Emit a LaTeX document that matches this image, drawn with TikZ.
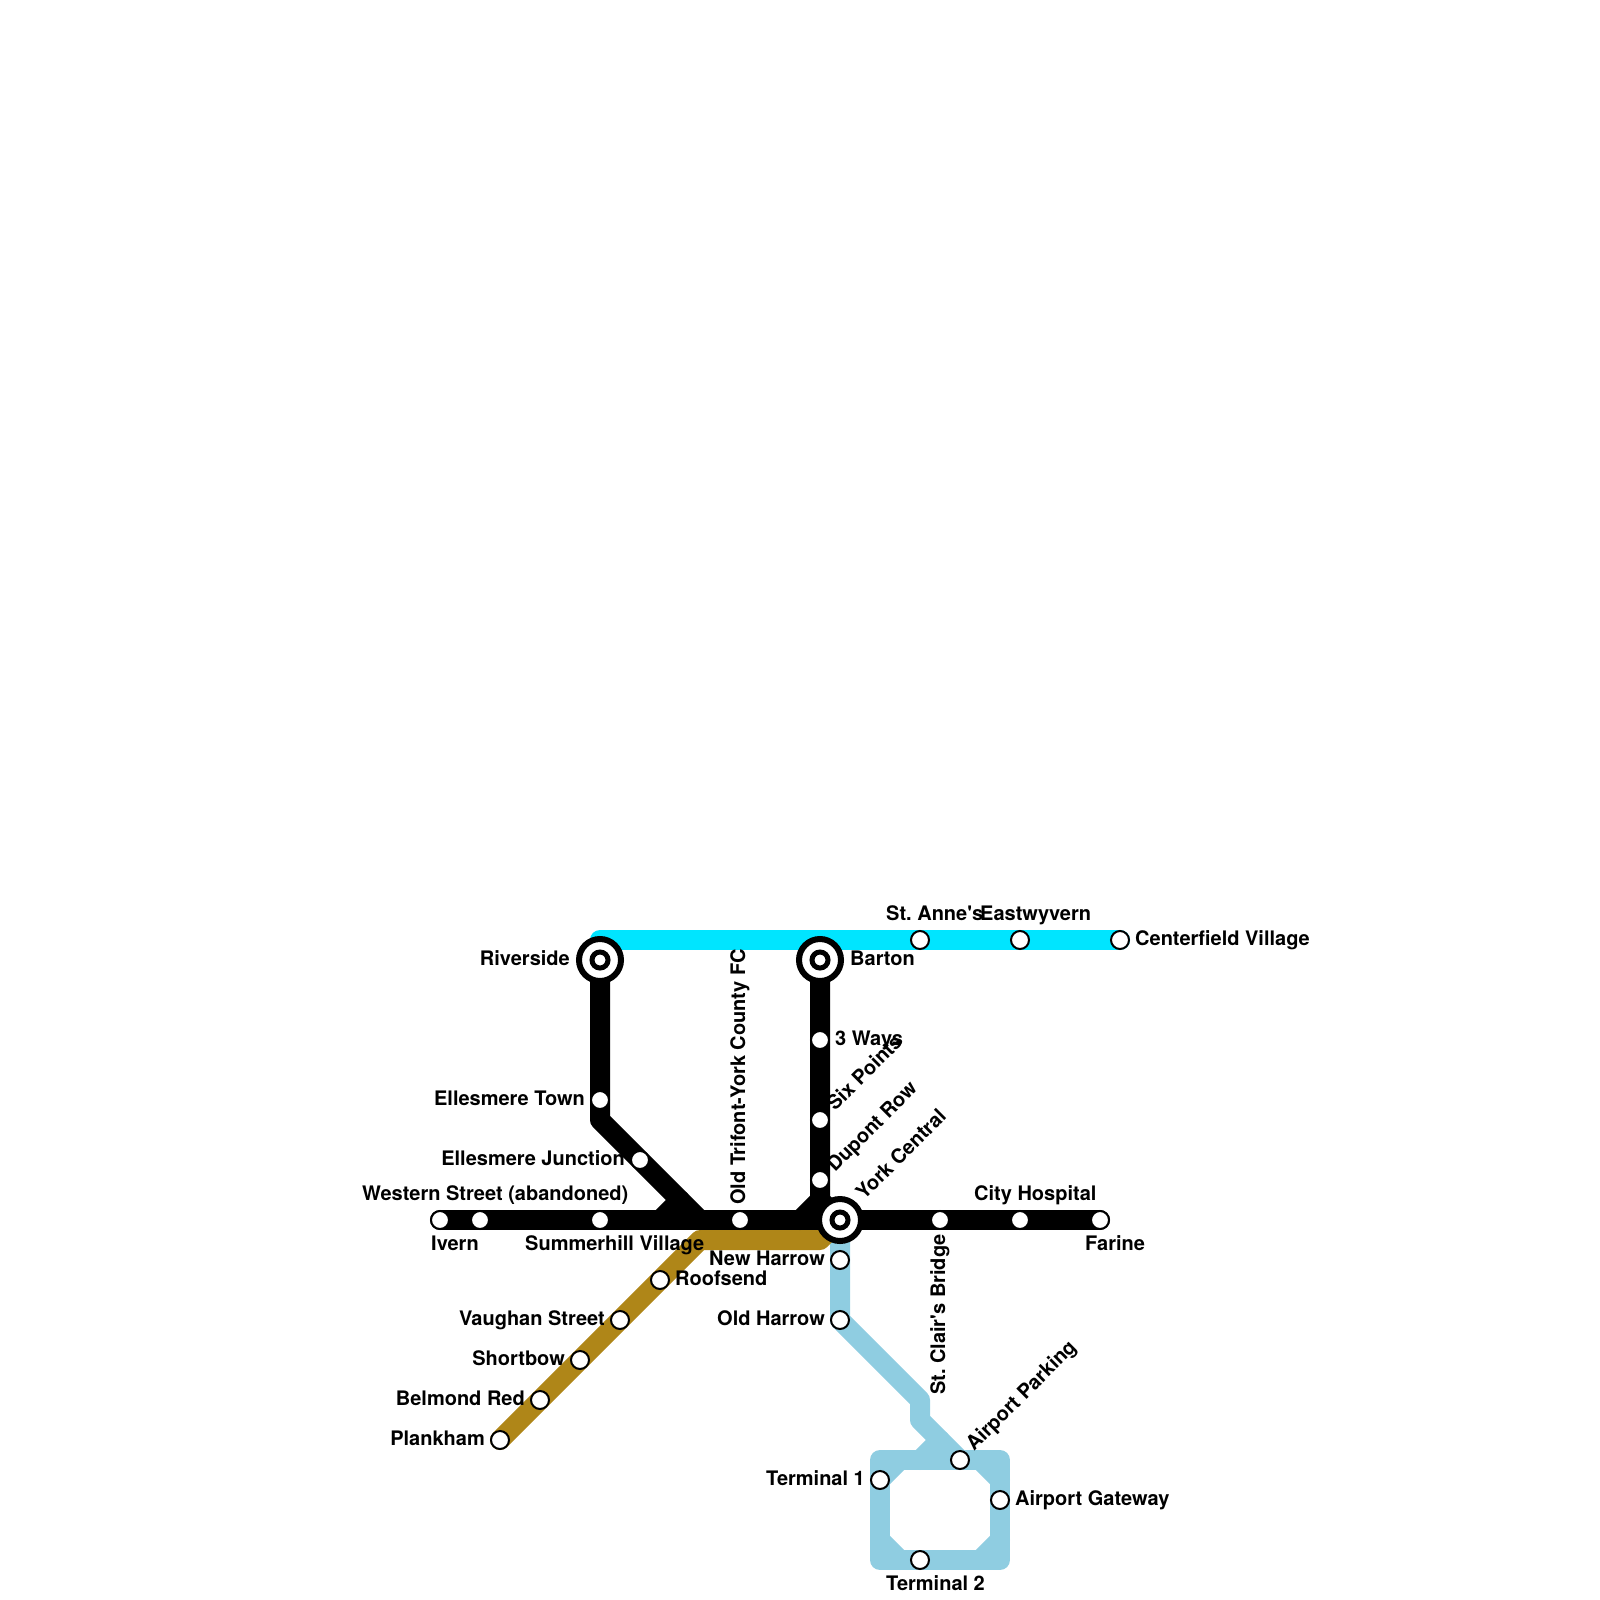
\documentclass[tikz,border=0pt]{standalone}
\usepackage{fontspec}
\setmainfont[Ligatures=ResetAll]{TeX Gyre Heros}
\usetikzlibrary{backgrounds}
\definecolor{MetroCyan}{HTML}{00E5FF}
\definecolor{MetroBrown}{HTML}{AF8618}
\definecolor{MetroBlue}{HTML}{8FCDE1}
\begin{document}
\begin{tikzpicture}[x=1pt,y=-1pt,
    every node/.style={font=\fontsize{20}{22}\selectfont\bfseries,inner sep=0pt},
    stn/.style={circle,draw=black,fill=white,line width=2pt,minimum size=18pt},
    hub/.style={circle,draw=black,fill=white,line width=6pt,minimum size=42pt},
    hubcore/.style={circle,draw=black,fill=white,line width=5pt,minimum size=16pt},
    rail/.style={line width=20pt,line cap=round,line join=round}]
  \useasboundingbox (0,0) rectangle (1600,1600);

  % stations
  \node[stn] (ivern) at (440,1220) {};
  \node[stn] (western) at (480,1220) {};
  \node[stn] (summerhill) at (600,1220) {};
  \node[stn] (trifont) at (740,1220) {};
  \node[stn] (stclair) at (940,1220) {};
  \node[stn] (cityhosp) at (1020,1220) {};
  \node[stn] (farine) at (1100,1220) {};
  \node[stn] (ellestown) at (600,1100) {};
  \node[stn] (ellesjunc) at (640,1160) {};
  \node[stn] (threeways) at (820,1040) {};
  \node[stn] (sixpoints) at (820,1120) {};
  \node[stn] (dupont) at (820,1180) {};
  \node[stn] (stannes) at (920,940) {};
  \node[stn] (eastwyvern) at (1020,940) {};
  \node[stn] (centerfield) at (1120,940) {};
  \node[stn] (roofsend) at (660,1280) {};
  \node[stn] (vaughan) at (620,1320) {};
  \node[stn] (shortbow) at (580,1360) {};
  \node[stn] (belmond) at (540,1400) {};
  \node[stn] (plankham) at (500,1440) {};
  \node[stn] (newharrow) at (840,1260) {};
  \node[stn] (oldharrow) at (840,1320) {};
  \node[stn] (parking) at (960,1460) {};
  \node[stn] (terminalone) at (880,1480) {};
  \node[stn] (gateway) at (1000,1500) {};
  \node[stn] (terminaltwo) at (920,1560) {};
  \node[hub] (riverside) at (600,960) {};
  \node[hub] (barton) at (820,960) {};
  \node[hub] (york) at (840,1220) {};
  \node[hubcore] (riversidecore) at (riverside) {};
  \node[hubcore] (bartoncore) at (barton) {};
  \node[hubcore] (yorkcore) at (york) {};

  % bends
  \coordinate (cyanbend) at (600,940);
  \coordinate (ellesbend) at (600,1120);
  \coordinate (ellesfoot) at (700,1220);
  \coordinate (ellesnotch) at (680,1200);
  \coordinate (ellesstub) at (660,1220);
  \coordinate (bartonbend) at (820,1200);
  \coordinate (bartonstub) at (800,1220);
  \coordinate (brownbend) at (700,1240);
  \coordinate (browncorner) at (820,1240);
  \coordinate (bluetop) at (920,1400);
  \coordinate (bluelow) at (920,1420);
  \coordinate (bluestub) at (940,1440);
  \coordinate (ringstub) at (920,1460);
  \coordinate (ringnw) at (880,1460);
  \coordinate (ringne) at (1000,1460);
  \coordinate (ringse) at (1000,1560);
  \coordinate (ringsw) at (880,1560);
  \coordinate (nwa) at (900,1460);
  \coordinate (nea) at (980,1460);
  \coordinate (neb) at (1000,1480);
  \coordinate (sea) at (1000,1540);
  \coordinate (seb) at (980,1560);
  \coordinate (swa) at (900,1560);
  \coordinate (swb) at (880,1540);

  % lines
  \begin{scope}[on background layer]
    \draw[rail,MetroCyan] (riverside.center) -- (cyanbend) -- (stannes.center) -- (eastwyvern.center) -- (centerfield.center);
    \draw[rail,MetroBlue] (york.center) -- (newharrow.center) -- (oldharrow.center) -- (bluetop) -- (bluelow) -- (parking.center);
    \draw[rail,MetroBlue] (ringstub) -- (bluestub);
    \draw[rail,MetroBlue] (ringnw) -- (parking.center) -- (ringne) -- (gateway.center) -- (ringse) -- (terminaltwo.center) -- (ringsw) -- (terminalone.center) -- cycle;
    \draw[rail,MetroBlue] (terminalone.center) -- (nwa);
    \draw[rail,MetroBlue] (nea) -- (neb);
    \draw[rail,MetroBlue] (sea) -- (seb);
    \draw[rail,MetroBlue] (swa) -- (swb);
    \draw[rail,MetroBrown] (plankham.center) -- (belmond.center) -- (shortbow.center) -- (vaughan.center) -- (roofsend.center) -- (brownbend) -- (browncorner) -- (york.center);
    \draw[rail,black] (ivern.center) -- (western.center) -- (summerhill.center) -- (trifont.center) -- (york.center) -- (stclair.center) -- (cityhosp.center) -- (farine.center);
    \draw[rail,black] (riverside.center) -- (ellestown.center) -- (ellesbend) -- (ellesjunc.center) -- (ellesfoot);
    \draw[rail,black] (ellesstub) -- (ellesnotch);
    \draw[rail,black] (barton.center) -- (threeways.center) -- (sixpoints.center) -- (dupont.center) -- (bartonbend) -- (york.center);
    \draw[rail,black] (bartonstub) -- (bartonbend);
  \end{scope}

  % labels
  \node[anchor=base east] (riversidelbl) at (570,965) {Riverside};
  \node[anchor=base west] (bartonlbl) at (850,965) {Barton};
  \node[anchor=base east] (ellestownlbl) at (585,1105) {Ellesmere Town};
  \node[anchor=base east] (ellesjunclbl) at (625,1165) {Ellesmere Junction};
  \node[anchor=base west] (westernlbl) at (362,1200) {Western Street (abandoned)};
  \node[anchor=base west] (ivernlbl) at (431,1250) {Ivern};
  \node[anchor=base west] (summerhilllbl) at (525,1250) {Summerhill Village};
  \node[anchor=base west,rotate=90] (trifontlbl) at (745,1205) {Old Trifont-York County FC};
  \node[anchor=base east] (newharrowlbl) at (825,1265) {New Harrow};
  \node[anchor=base east] (oldharrowlbl) at (825,1325) {Old Harrow};
  \node[anchor=base west] (threewayslbl) at (835,1045) {3 Ways};
  \node[anchor=base west,rotate=45] (sixpointslbl) at (835,1112) {Six Points};
  \node[anchor=base west,rotate=45] (dupontlbl) at (835,1173) {Dupont Row};
  \node[anchor=base west,rotate=45] (yorklbl) at (864,1201) {York Central};
  \node[anchor=base west,rotate=45] (parkinglbl) at (974,1452) {Airport Parking};
  \node[anchor=base west] (stanneslbl) at (886,920) {St.\ Anne\textquotesingle s};
  \node[anchor=base west] (eastwyvernlbl) at (980,920) {Eastwyvern};
  \node[anchor=base west] (centerfieldlbl) at (1135,945) {Centerfield Village};
  \node[anchor=base west] (cityhosplbl) at (974,1200) {City Hospital};
  \node[anchor=base west] (farinelbl) at (1085,1250) {Farine};
  \node[anchor=base west,rotate=90] (stclairlbl) at (945,1395) {St.\ Clair\textquotesingle s Bridge};
  \node[anchor=base east] (terminalonelbl) at (865,1485) {Terminal 1};
  \node[anchor=base west] (gatewaylbl) at (1015,1505) {Airport Gateway};
  \node[anchor=base west] (terminaltwolbl) at (886,1590) {Terminal 2};
  \node[anchor=base west] (roofsendlbl) at (675,1285) {Roofsend};
  \node[anchor=base east] (vaughanlbl) at (605,1325) {Vaughan Street};
  \node[anchor=base east] (shortbowlbl) at (565,1365) {Shortbow};
  \node[anchor=base east] (belmondlbl) at (525,1405) {Belmond Red};
  \node[anchor=base east] (plankhamlbl) at (485,1445) {Plankham};
\end{tikzpicture}
\end{document}
